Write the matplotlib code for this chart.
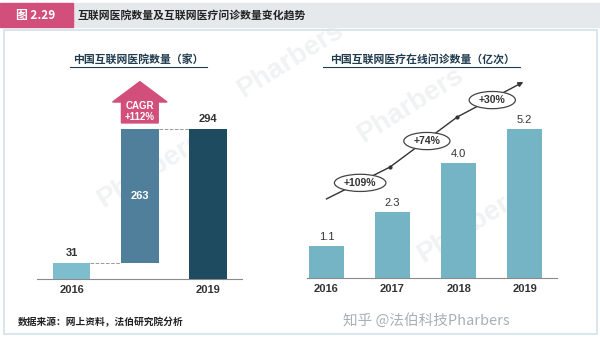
import matplotlib.pyplot as plt
from matplotlib.patches import Rectangle, Polygon, Ellipse
from matplotlib.lines import Line2D

# data
hosp_years = ['2016', '', '2019']
hosp_start = 31
hosp_end = 294
cagr_text = 'CAGR\n+112%'

visit_years = ['2016', '2017', '2018', '2019']
visit_values = [1.1, 2.3, 4.0, 5.2]
growth_labels = ['+109%', '+74%', '+30%']

CJK = ['Noto Sans CJK SC', 'DejaVu Sans']
NUM = ['Liberation Sans', 'DejaVu Sans']
W, H = 600, 339


def fx(x):
    return x / W


def fy(y):
    return 1 - y / H


def main():
    fig = plt.figure(figsize=(6, 3.39), dpi=100)
    fig.patch.set_facecolor('white')

    # header band
    fig.add_artist(Rectangle((fx(73), fy(27)), fx(527), 24 / H, transform=fig.transFigure,
                             color='#E6E9EC', zorder=-2))
    fig.add_artist(Rectangle((0, fy(27)), fx(73), 24 / H, transform=fig.transFigure,
                             color='#D24F7B', zorder=-1))
    fig.text(fx(36), fy(15), '图 2.29', family=CJK, fontsize=8.5, weight='bold',
             color='white', ha='center', va='center')
    fig.text(fx(78), fy(15), '互联网医院数量及互联网医疗问诊数量变化趋势', family=CJK,
             fontsize=7.8, weight='bold', color='#222222', ha='left', va='center')

    # frame
    fig.add_artist(Rectangle((fx(4), fy(334)), fx(593), 304 / H, transform=fig.transFigure,
                             fill=False, edgecolor='#D3E2EA', lw=1.2, zorder=-2))

    # faint watermarks (behind the charts)
    for (x, y) in [(150, 170), (410, 105), (470, 225), (290, 60)]:
        fig.text(fx(x), fy(y), 'Pharbers', fontsize=20, weight='bold', color='#F1F2F3',
                 rotation=32, ha='center', va='center', family=NUM, zorder=-3)

    # subtitles
    fig.text(fx(138), fy(59), '中国互联网医院数量（家）', family=CJK, fontsize=7.8,
             weight='bold', color='#1F3B4D', ha='center', va='center')
    fig.add_artist(Line2D([fx(70), fx(207)], [fy(67), fy(67)], transform=fig.transFigure,
                          color='#1F3B4D', lw=0.8))
    fig.text(fx(422), fy(59), '中国互联网医疗在线问诊数量（亿次）', family=CJK, fontsize=7.8,
             weight='bold', color='#1F3B4D', ha='center', va='center')
    fig.add_artist(Line2D([fx(323), fx(520)], [fy(67), fy(67)], transform=fig.transFigure,
                          color='#1F3B4D', lw=0.8))

    # ---- left chart ----
    ax1 = fig.add_axes([fx(37), fy(279), fx(205), 204 / H])
    ax1.patch.set_alpha(0)
    inc = hosp_end - hosp_start
    w1 = 0.55
    xs = [0, 1, 2]
    ax1.bar(xs, [hosp_start, inc, hosp_end], bottom=[0, hosp_start, 0], width=w1,
            color=['#7DBDCD', '#4F7F9A', '#1F4B61'], zorder=3)
    ax1.plot([w1 / 2, 1 - w1 / 2], [hosp_start, hosp_start], ls='--', color='#9A9A9A', lw=0.7)
    ax1.plot([1 + w1 / 2, 2 - w1 / 2], [hosp_end, hosp_end], ls='--', color='#9A9A9A', lw=0.7)
    ax1.annotate(str(hosp_start), (0, hosp_start), xytext=(0, 4), textcoords='offset points',
                 ha='center', va='bottom', fontsize=8, weight='bold', family=NUM, color='#333333')
    ax1.text(1, hosp_start + inc / 2, str(inc), ha='center', va='center', fontsize=8,
             weight='bold', family=NUM, color='white', zorder=4)
    ax1.annotate(str(hosp_end), (2, hosp_end), xytext=(0, 4), textcoords='offset points',
                 ha='center', va='bottom', fontsize=8, weight='bold', family=NUM, color='#333333')
    # CAGR arrow
    body, head = 0.27, 0.40
    ax1.add_patch(Polygon([(1 - body, 306), (1 + body, 306), (1 + body, 347), (1 + head, 347),
                           (1, 387), (1 - head, 347), (1 - body, 347)],
                          closed=True, color='#D24F7B', zorder=3))
    ax1.text(1, 329, cagr_text, ha='center', va='center', fontsize=7, weight='bold',
             family=NUM, color='white', linespacing=1.1, zorder=4)
    ax1.set_xlim(-0.51, 2.5)
    ax1.set_ylim(0, 400)
    ax1.set_xticks(xs)
    ax1.set_xticklabels(hosp_years, family=NUM, fontsize=8, weight='bold', color='#333333')
    ax1.tick_params(axis='x', length=0, pad=4)
    ax1.set_yticks([])
    for s in ['top', 'left', 'right']:
        ax1.spines[s].set_visible(False)
    ax1.spines['bottom'].set_color('#8A8A8A')
    ax1.spines['bottom'].set_linewidth(0.8)

    # ---- right chart ----
    ax2 = fig.add_axes([fx(307), fy(278), fx(250), 203 / H])
    ax2.patch.set_alpha(0)
    x2 = list(range(len(visit_years)))
    ax2.bar(x2, visit_values, width=0.53, color='#74B4C4', zorder=3)
    for i, v in enumerate(visit_values):
        ax2.annotate(f'{v:.1f}', (i, v), xytext=(0, 3), textcoords='offset points',
                     ha='center', va='bottom', fontsize=8, family=NUM, color='#333333')
    # growth trend arrow
    px = [0.0, 0.96, 1.98]
    py = [2.76, 3.87, 5.62]
    ax2.plot(px, py, color='#333333', lw=1.0, zorder=4)
    ax2.plot(px[1:], py[1:], 'o', ms=2, color='#333333', zorder=4)
    ax2.annotate('', xy=(2.98, 6.84), xytext=(px[-1], py[-1]),
                 arrowprops=dict(arrowstyle='-|>', color='#333333', lw=1.0,
                                 mutation_scale=7, shrinkA=0, shrinkB=0), zorder=4)
    ex = [0.51, 1.52, 2.51]
    ey = [3.32, 4.78, 6.21]
    ew = [0.78, 0.70, 0.70]
    for x, y, w, lab in zip(ex, ey, ew, growth_labels):
        ax2.add_patch(Ellipse((x, y), w, 0.6, facecolor='white', edgecolor='#444444',
                              lw=0.9, zorder=5))
        ax2.text(x, y, lab, ha='center', va='center', fontsize=7.5, weight='bold',
                 family=NUM, color='#333333', zorder=6)
    ax2.set_xlim(-0.295, 3.49)
    ax2.set_ylim(0, 7.085)
    ax2.set_xticks(x2)
    ax2.set_xticklabels(visit_years, family=NUM, fontsize=8, weight='bold', color='#333333')
    ax2.tick_params(axis='x', length=0, pad=4)
    ax2.set_yticks([])
    for s in ['top', 'left', 'right']:
        ax2.spines[s].set_visible(False)
    ax2.spines['bottom'].set_color('#8A8A8A')
    ax2.spines['bottom'].set_linewidth(0.8)

    # footer
    fig.text(fx(18), fy(322), '数据来源：网上资料，法伯研究院分析', family=CJK, fontsize=7,
             weight='bold', color='#222222', ha='left', va='center')
    fig.text(fx(510), fy(320), '知乎 @法伯科技Pharbers', family=CJK, fontsize=10.5,
             color='#A9B0B5', ha='right', va='center')

    fig.savefig('out.png', dpi=100)


if __name__ == '__main__':
    main()
